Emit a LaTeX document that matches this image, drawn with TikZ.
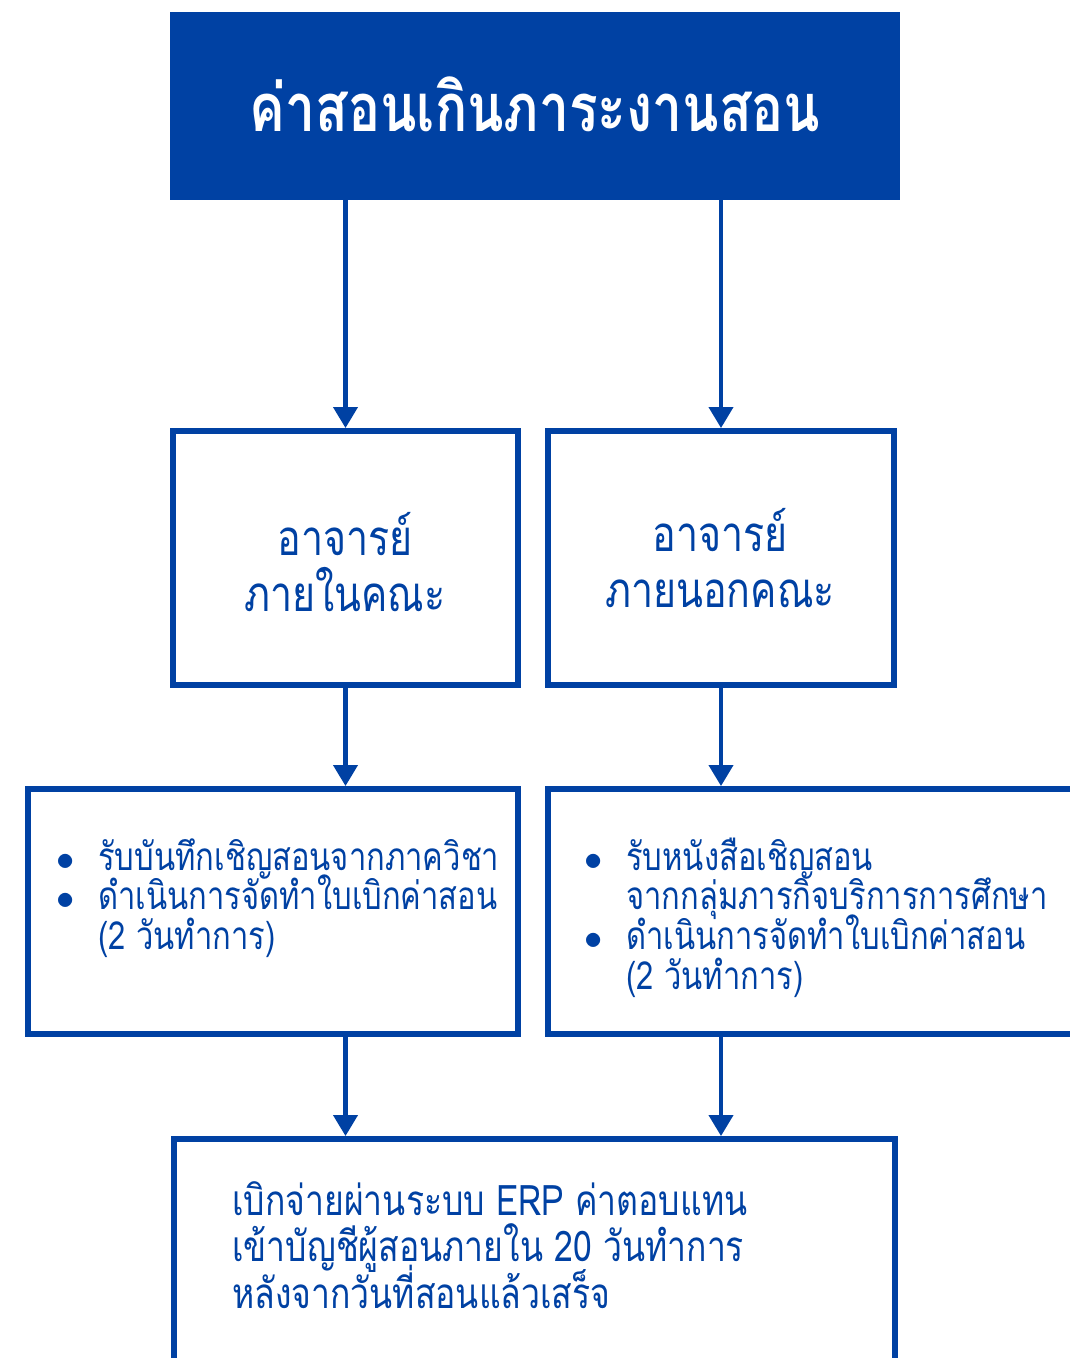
\documentclass[tikz,border=0pt]{standalone}
\usepackage{fontspec}
\usepackage{tikz}
\usetikzlibrary{arrows.meta}
\setmainfont{Loma}[Script=Thai, FakeStretch=0.8]
\definecolor{tealblue}{RGB}{0,65,163}
\newcommand\fixedlines{\lineskiplimit=-30pt\lineskip=0pt}
\newcommand\bulletitem{\makebox[0.84cm][l]{$\bullet$}}
\newcommand\bulletgap{\hspace*{0.84cm}}

\begin{document}
\begin{tikzpicture}[x=0.02cm, y=-0.02cm]
    \useasboundingbox (0,0) rectangle (1069,1358);

    % Cajas
    \node[fill=tealblue, minimum width=14.6cm, minimum height=3.76cm] (title) at (535,106) {};
    \node[draw=tealblue, line width=3.4pt, minimum width=6.9cm, minimum height=5.08cm] (inner) at (345.5,558) {};
    \node[draw=tealblue, line width=3.4pt, minimum width=6.92cm, minimum height=5.08cm] (outer) at (721,558) {};
    \node[draw=tealblue, line width=3.4pt, minimum width=9.8cm, minimum height=4.9cm] (innerstep) at (273,911.5) {};
    \node[draw=tealblue, line width=3.4pt, minimum width=11.04cm, minimum height=4.9cm] (outerstep) at (824,911.5) {};
    \node[draw=tealblue, line width=3.4pt, minimum width=14.42cm, minimum height=5.22cm] (payment) at (534.5,1269.5) {};

    % Textos
    \node[anchor=base, text=white, inner sep=0, font=\bfseries\fontsize{38}{40}\selectfont] (titletext) at (535,132) {ค่าสอนเกินภาระงานสอน};
    \node[anchor=base, text=tealblue, inner sep=0, font=\fontsize{28}{32.4}\selectfont] (innertext) at (345,555)
        {\parbox[t]{6.4cm}{\centering\fixedlines อาจารย์\\ภายในคณะ}};
    \node[anchor=base, text=tealblue, inner sep=0, font=\fontsize{28}{32.4}\selectfont] (outertext) at (720,551)
        {\parbox[t]{6.4cm}{\centering\fixedlines อาจารย์\\ภายนอกคณะ}};
    \node[anchor=base west, text=tealblue, inner sep=0, font=\fontsize{22}{22.6}\selectfont] (innersteptext) at (56,870)
        {\parbox[t]{9cm}{\raggedright\fixedlines
            \bulletitem รับบันทึกเชิญสอนจากภาควิชา\\
            \bulletitem ดำเนินการจัดทำใบเบิกค่าสอน\\
            \bulletgap (2 วันทำการ)}};
    \node[anchor=base west, text=tealblue, inner sep=0, font=\fontsize{22}{22.6}\selectfont] (outersteptext) at (584,870)
        {\parbox[t]{9cm}{\raggedright\fixedlines
            \bulletitem รับหนังสือเชิญสอน\\
            \bulletgap จากกลุ่มภารกิจบริการการศึกษา\\
            \bulletitem ดำเนินการจัดทำใบเบิกค่าสอน\\
            \bulletgap (2 วันทำการ)}};
    \node[anchor=base west, text=tealblue, inner sep=0, font=\fontsize{24}{26.7}\selectfont] (paymenttext) at (232,1215)
        {\parbox[t]{12cm}{\raggedright\fixedlines
            เบิกจ่ายผ่านระบบ ERP ค่าตอบแทน\\
            เข้าบัญชีผู้สอนภายใน 20 วันทำการ\\
            หลังจากวันที่สอนแล้วเสร็จ}};

    % Flechas
    \draw[tealblue, line width=2.3pt, -{Triangle[width=0.48cm, length=0.42cm]}] (title.south -| inner.north) -- (inner.north);
    \draw[tealblue, line width=2.3pt, -{Triangle[width=0.48cm, length=0.42cm]}] (title.south -| outer.north) -- (outer.north);
    \draw[tealblue, line width=2.3pt, -{Triangle[width=0.48cm, length=0.42cm]}] (inner.south) -- (inner.south |- innerstep.north);
    \draw[tealblue, line width=2.3pt, -{Triangle[width=0.48cm, length=0.42cm]}] (outer.south) -- (outer.south |- outerstep.north);
    \draw[tealblue, line width=2.3pt, -{Triangle[width=0.48cm, length=0.42cm]}] (innerstep.south -| inner.south) -- (inner.south |- payment.north);
    \draw[tealblue, line width=2.3pt, -{Triangle[width=0.48cm, length=0.42cm]}] (outerstep.south -| outer.south) -- (outer.south |- payment.north);
\end{tikzpicture}
\end{document}
